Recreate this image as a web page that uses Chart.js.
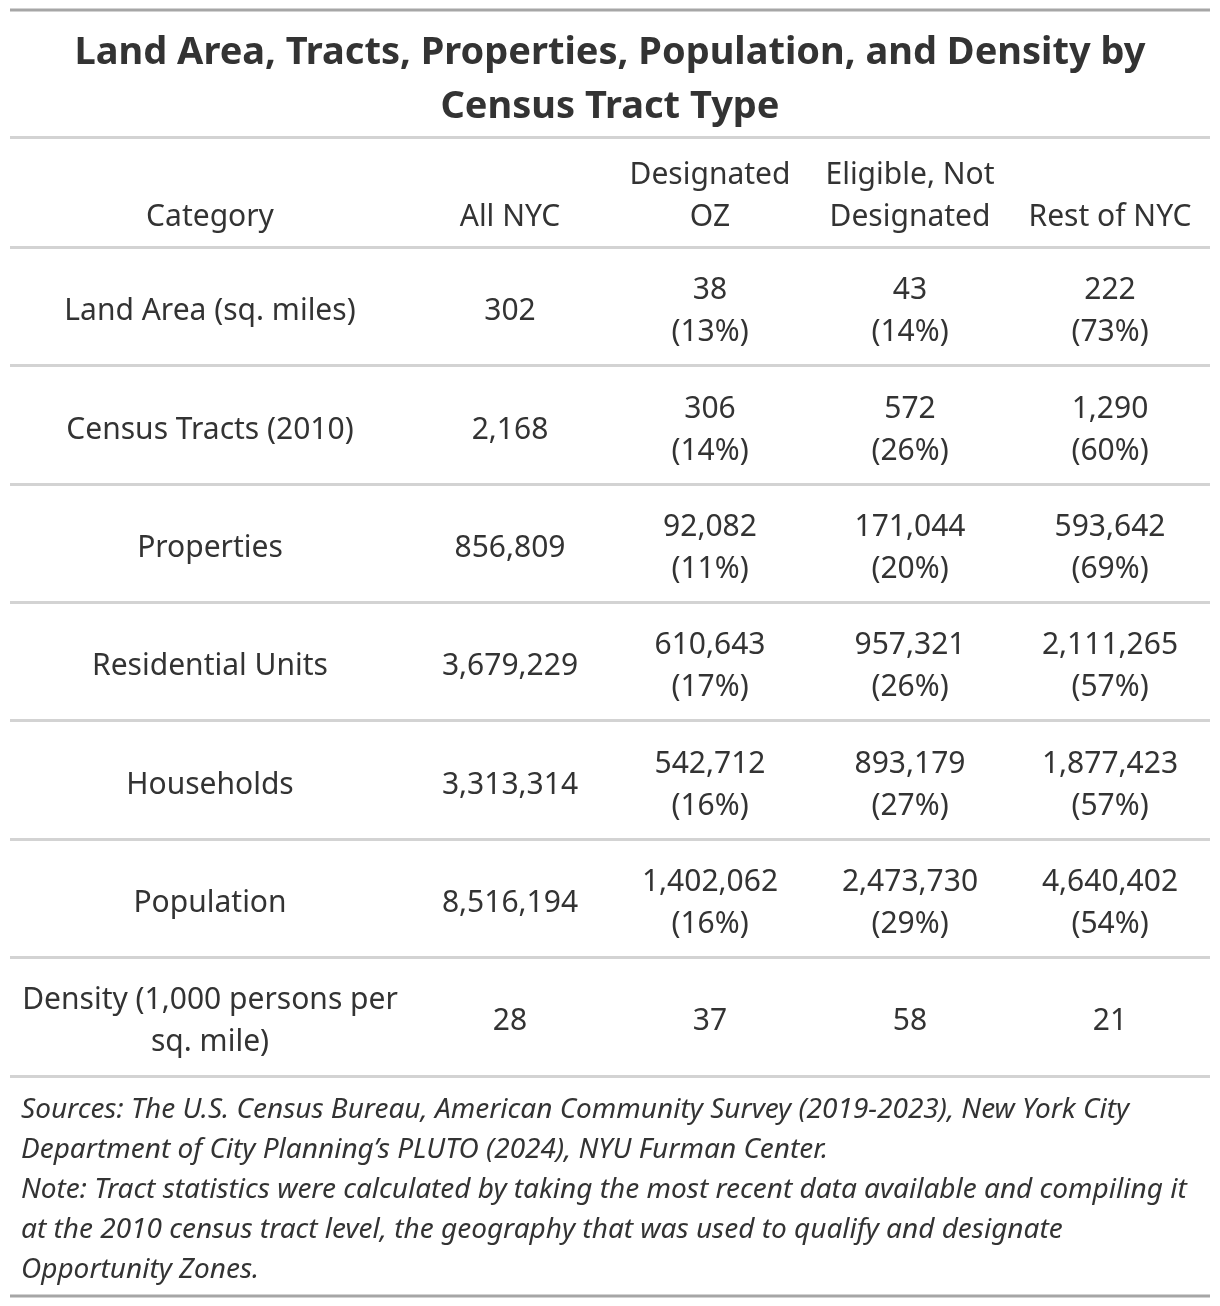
<!DOCTYPE html>
<html>
<head>
<meta charset="utf-8">
<title>Land Area, Tracts, Properties, Population, and Density by Census Tract Type</title>
<script src="https://cdn.jsdelivr.net/npm/chart.js@4.4.1/dist/chart.umd.min.js"></script>
<style>
  html, body { margin: 0; padding: 0; background: #ffffff; }
  #wrap { width: 1220px; height: 1306px; position: relative; }
</style>
</head>
<body>
<div id="wrap"><canvas id="tableChart"></canvas></div>
<script>
// table content
const columns = ['Category', 'All NYC', 'Designated OZ', 'Eligible, Not Designated', 'Rest of NYC'];
const categories = [
    'Land Area (sq. miles)',
    'Census Tracts (2010)',
    'Properties',
    'Residential Units',
    'Households',
    'Population',
    'Density (1,000 persons per sq. mile)'
];
const allNyc = [302, 2168, 856809, 3679229, 3313314, 8516194, 28];
const designatedOz = [38, 306, 92082, 610643, 542712, 1402062, 37];
const designatedPct = [13, 14, 11, 17, 16, 16, null];
const eligible = [43, 572, 171044, 957321, 893179, 2473730, 58];
const eligiblePct = [14, 26, 20, 26, 27, 29, null];
const restOfNyc = [222, 1290, 593642, 2111265, 1877423, 4640402, 21];
const restPct = [73, 60, 69, 57, 57, 54, null];

const titleLines = ['Land Area, Tracts, Properties, Population, and Density by', 'Census Tract Type'];
const footerLines = [
    'Sources: The U.S. Census Bureau, American Community Survey (2019-2023), New York City',
    'Department of City Planning\u2019s PLUTO (2024), NYU Furman Center.',
    'Note: Tract statistics were calculated by taking the most recent data available and compiling it',
    'at the 2010 census tract level, the geography that was used to qualify and designate',
    'Opportunity Zones.'
];

// layout
const FONT = '"Noto Sans", "Open Sans", sans-serif';
const TEXT = '#333333';
const colCenters = [1, 2.5, 3.5, 4.5, 5.5];   // x units, first column is twice as wide
const colWidths = [2, 1, 1, 1, 1];
const headerSpan = 110 / 118.3;               // header row is a bit shorter
const rowEdges = [-headerSpan, 0, 1, 2, 3, 4, 5, 6, 7];

function fmt(v) {
    return v.toLocaleString('en-US');
}

function cell(v, pct) {
    return pct == null ? [fmt(v)] : [fmt(v), '(' + pct + '%)'];
}

function buildColumn(header, texts) {
    const pts = [{ x: 0, y: -headerSpan / 2, header: true, text: header }];
    texts.forEach((t, i) => pts.push({ x: 0, y: i + 0.5, header: false, text: t }));
    return pts;
}

const columnTexts = [
    categories,
    allNyc.map(v => [fmt(v)]),
    designatedOz.map((v, i) => cell(v, designatedPct[i])),
    eligible.map((v, i) => cell(v, eligiblePct[i])),
    restOfNyc.map((v, i) => cell(v, restPct[i]))
];

const datasets = columns.map((c, ci) => ({
    label: c,
    data: buildColumn(c, columnTexts[ci]).map(p => Object.assign(p, { x: colCenters[ci] })),
    pointRadius: 0,
    pointHoverRadius: 0,
    colWidth: colWidths[ci]
}));

function wrapText(ctx, text, maxWidth) {
    if (Array.isArray(text)) return text;
    const words = text.split(' ');
    const lines = [];
    let cur = '';
    words.forEach(w => {
        const test = cur ? cur + ' ' + w : w;
        if (ctx.measureText(test).width > maxWidth && cur) {
            lines.push(cur);
            cur = w;
        } else {
            cur = test;
        }
    });
    if (cur) lines.push(cur);
    return lines;
}

const tablePlugin = {
    id: 'tablePlugin',
    afterDatasetsDraw(chart) {
        const ctx = chart.ctx;
        const xs = chart.scales.x;
        const lineH = 42;
        ctx.save();
        ctx.fillStyle = TEXT;
        ctx.textAlign = 'center';
        ctx.textBaseline = 'middle';
        ctx.font = '30px ' + FONT;
        chart.data.datasets.forEach((ds, di) => {
            const meta = chart.getDatasetMeta(di);
            const maxW = Math.abs(xs.getPixelForValue(ds.colWidth) - xs.getPixelForValue(0)) - 16;
            meta.data.forEach((el, j) => {
                const raw = ds.data[j];
                const lines = wrapText(ctx, raw.text, maxW);
                let y0;
                if (raw.header) {
                    // header cells sit on the bottom of the row
                    const bottom = chart.scales.y.getPixelForValue(0);
                    y0 = bottom - 30 - (lines.length - 1) * lineH;
                } else {
                    y0 = el.y + 5 - (lines.length - 1) * lineH / 2;
                }
                lines.forEach((ln, k) => ctx.fillText(ln, el.x, y0 + k * lineH));
            });
        });

        // footer notes
        const area = chart.chartArea;
        ctx.textAlign = 'left';
        ctx.font = 'italic 28px ' + FONT;
        footerLines.forEach((ln, k) => ctx.fillText(ln, area.left + 11, area.bottom + 34 + k * 40));

        // outer rules
        ctx.strokeStyle = '#a6a6a6';
        ctx.lineWidth = 3;
        [10, chart.height - 10].forEach(y => {
            ctx.beginPath();
            ctx.moveTo(area.left, y);
            ctx.lineTo(area.right, y);
            ctx.stroke();
        });
        ctx.restore();
    }
};

new Chart(document.getElementById('tableChart'), {
    type: 'scatter',
    data: { datasets: datasets },
    options: {
        responsive: true,
        maintainAspectRatio: false,
        animation: false,
        events: [],
        layout: { padding: { left: 10, right: 10, top: 0, bottom: 230 } },
        plugins: {
            legend: { display: false },
            tooltip: { enabled: false },
            title: {
                display: true,
                text: titleLines,
                color: TEXT,
                font: { family: FONT, size: 38, weight: 'bold', lineHeight: 1.4 },
                padding: { top: 27, bottom: 4 }
            }
        },
        scales: {
            x: { type: 'linear', display: false, min: 0, max: 6 },
            y: {
                type: 'linear',
                reverse: true,
                min: -headerSpan,
                max: 7,
                afterBuildTicks(scale) {
                    scale.ticks = rowEdges.map(v => ({ value: v }));
                },
                ticks: { display: false },
                border: { display: false },
                grid: { color: '#d3d3d3', lineWidth: 3, drawTicks: false }
            }
        }
    },
    plugins: [tablePlugin]
});
</script>
</body>
</html>
